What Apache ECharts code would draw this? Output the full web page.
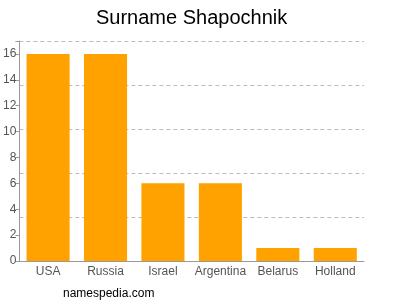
<!DOCTYPE html>
<html><head><meta charset="utf-8">
<script src="https://cdn.jsdelivr.net/npm/echarts@6/dist/echarts.min.js"></script>
<style>html,body{margin:0;padding:0;background:#fff}#c{width:400px;height:300px}</style>
</head><body><div id="c"></div>
<script>
var categories = ["USA", "Russia", "Israel", "Argentina", "Belarus", "Holland"];
var counts = [16, 16, 6, 6, 1, 1];
var titleText = "Surname Shapochnik";
var footerText = "namespedia.com";

var chart = echarts.init(document.getElementById('c'), null, {renderer: 'canvas'});
chart.setOption({
  animation: false,
  title: [{text: titleText, left: 91, top: 3, textStyle: {fontFamily: 'Liberation Sans, Arial, sans-serif', fontSize: 20, fontWeight: 'normal', color: '#000'}},
          {text: footerText, left: 58, top: 283, textStyle: {fontFamily: 'Liberation Sans, Arial, sans-serif', fontSize: 12, fontWeight: 'normal', color: '#000'}}],
  grid: {left: 16, right: 36, top: 41, bottom: 39, containLabel: false},
  xAxis: {type: 'category', data: categories,
    axisLine: {lineStyle: {color: '#999'}},
    axisTick: {alignWithLabel: true, length: 4, lineStyle: {color: '#999'}},
    axisLabel: {color: '#555', fontSize: 12, margin: 5, fontFamily: 'Liberation Sans, Arial, sans-serif', interval: 0}},
  yAxis: [{type: 'value', min: 0, max: 17, interval: 2,
    axisLine: {show: true, lineStyle: {color: '#999'}},
    axisTick: {show: true, length: 4, lineStyle: {color: '#999'}},
    splitLine: {show: false},
    axisLabel: {color: '#555', fontSize: 12, margin: 3, fontFamily: 'Liberation Sans, Arial, sans-serif',
      formatter: function(v){ return v % 2 === 0 ? v : ''; }}},
    {type: 'value', min: 0, max: 17, interval: 3.4, position: 'left',
    axisLine: {show: false}, axisTick: {show: false}, axisLabel: {show: false},
    splitLine: {show: true, lineStyle: {color: '#bbb', type: [4, 3], width: 1}}}],
  series: [{type: 'bar', data: counts, barWidth: '75%', yAxisIndex: 0,
    itemStyle: {color: '#ffa200'}}]
});
</script></body></html>
